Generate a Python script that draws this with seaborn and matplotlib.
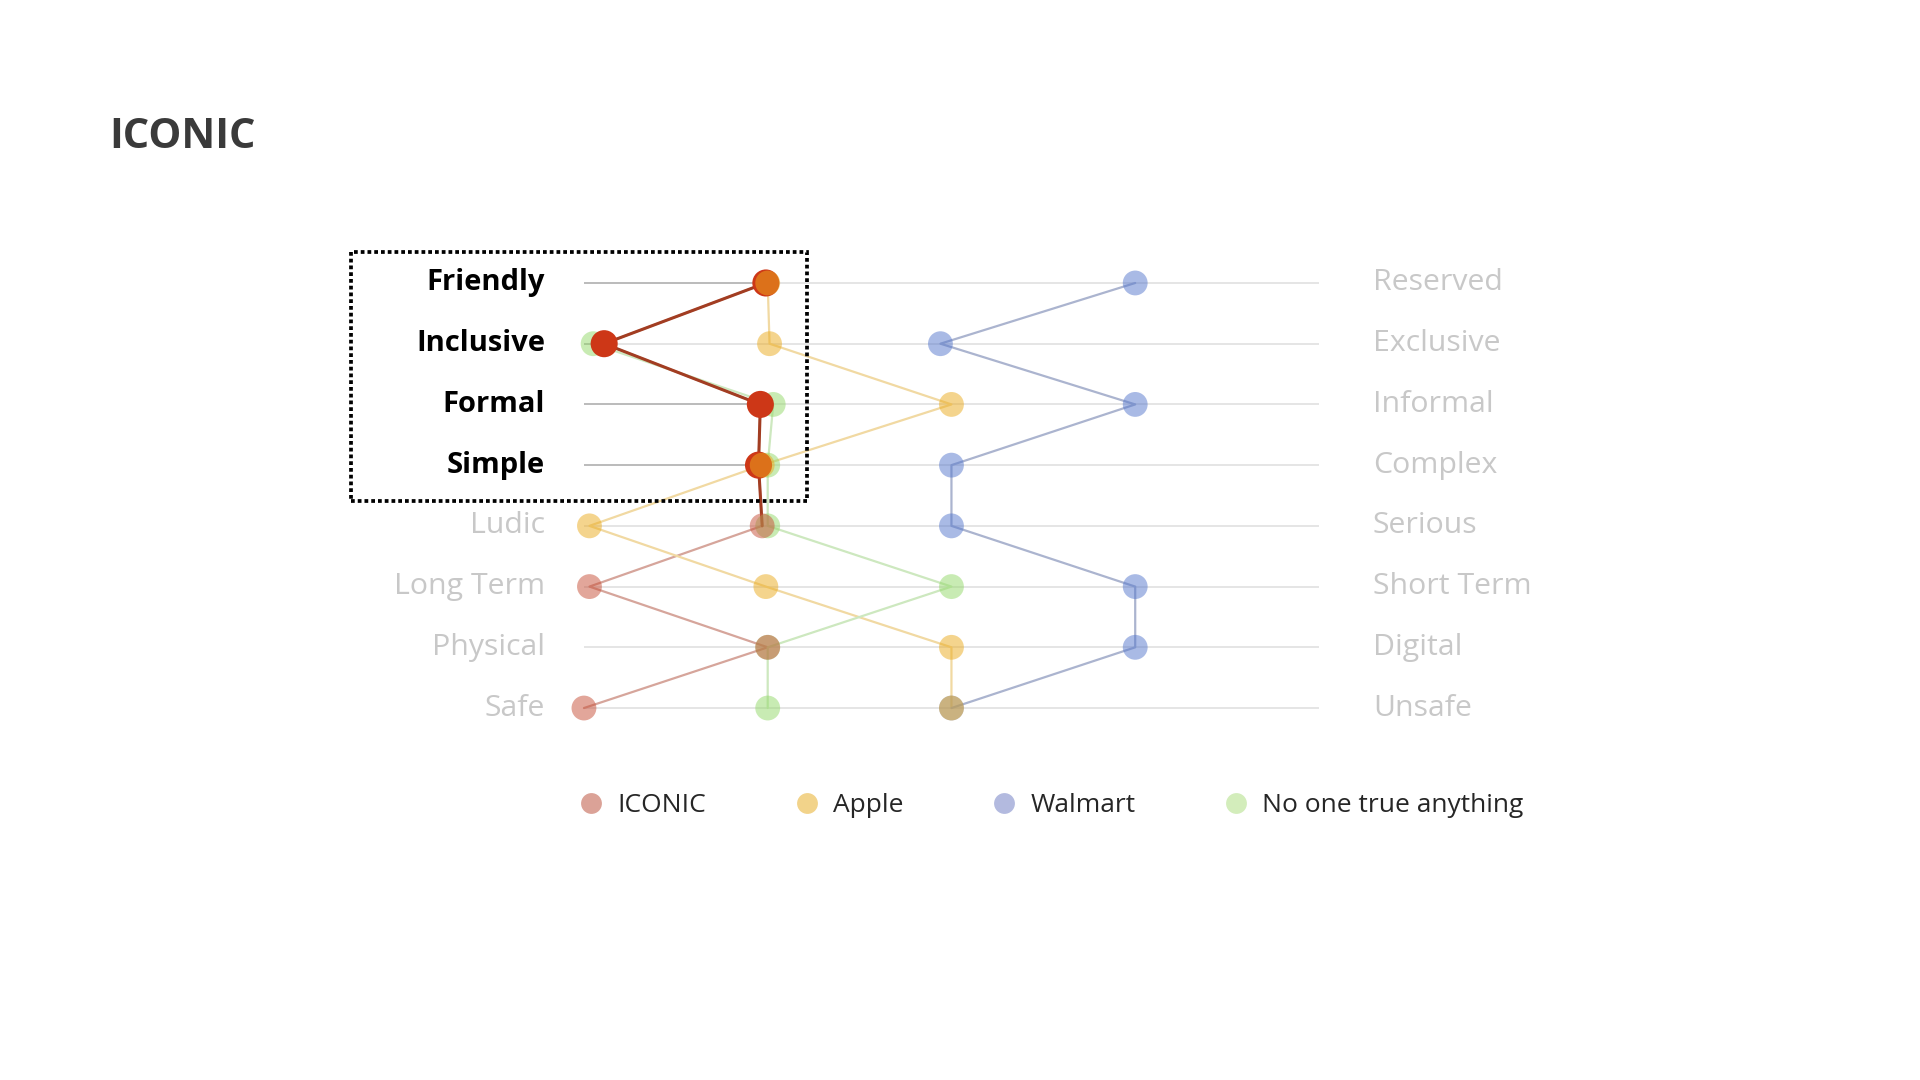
import numpy as np
import pandas as pd
import seaborn as sns
import matplotlib.pyplot as plt
from matplotlib.lines import Line2D
from matplotlib.patches import Rectangle

# pares de atributos (esquerda / direita)
rotulos_esq = ["Friendly", "Inclusive", "Formal", "Simple", "Ludic", "Long Term", "Physical", "Safe"]
rotulos_dir = ["Reserved", "Exclusive", "Informal", "Complex", "Serious", "Short Term", "Digital", "Unsafe"]

# notas (escala 1 a 5)
iconic = [1.99, 1.11, 1.96, 1.95, 1.97, 1.03, 2.00, 1.00]
apple = [2.00, 2.01, 3.00, 1.97, 1.03, 1.99, 3.00, 3.00]
walmart = [4.00, 2.94, 4.00, 3.00, 3.00, 4.00, 4.00, 3.00]
no_one = [np.nan, 1.05, 2.03, 2.00, 2.00, 3.00, 2.00, 2.00]

marcas = ["ICONIC", "Apple", "Walmart", "No one true anything"]
n_destaque = 4  # linhas dentro do quadro pontilhado

cores_ponto = {"ICONIC": "#c74f37", "Apple": "#ebab1d", "Walmart": "#5577cd",
               "No one true anything": "#93d969"}
cores_linha = {"ICONIC": "#d6a59b", "Apple": "#f1d9a2", "Walmart": "#abb4cf",
               "No one true anything": "#cde8bf"}
cores_legenda = {"ICONIC": "#dba297", "Apple": "#f2d38a", "Walmart": "#b3badf",
                 "No one true anything": "#d3edbb"}
vermelho = "#cd3717"
vermelho_linha = "#a23d22"

valores = {"ICONIC": iconic, "Apple": apple, "Walmart": walmart, "No one true anything": no_one}
linhas = []
for marca in marcas:
    for i, v in enumerate(valores[marca]):
        linhas.append({"marca": marca, "linha": i, "nota": v})
df = pd.DataFrame(linhas).dropna()

sns.set_theme(style="white")
plt.rcParams['font.family'] = ['Open Sans', 'DejaVu Sans']

fig = plt.figure(figsize=(19.2, 10.8), dpi=100)
ax = fig.add_axes([0.2850, 0.3163, 0.4211, 0.4498])
ax.set_xlim(0.8, 5.2)
ax.set_ylim(7.5, -0.5)
ax.axis('off')

idx = np.arange(len(rotulos_esq))
ax.hlines(idx, 1, 5, color='#e3e3e3', lw=1.3, zorder=0)
ax.hlines(idx[:n_destaque], 1, iconic[:n_destaque], color='#b8b8b8', lw=1.3, zorder=0.5)

sns.lineplot(data=df, x='nota', y='linha', hue='marca', hue_order=marcas,
             palette=cores_linha, sort=False, estimator=None, orient='y',
             legend=False, lw=1.6, ax=ax, zorder=1)

# destaque: trecho do ICONIC dentro do quadro
dest = df[(df['marca'] == 'ICONIC') & (df['linha'] <= n_destaque)]
sns.lineplot(data=dest, x='nota', y='linha', sort=False, estimator=None, orient='y',
             color=vermelho_linha, lw=2.2, ax=ax, zorder=2)

ordem = [("No one true anything", 3), ("Walmart", 3.1), ("ICONIC", 3.2), ("Apple", 3.4)]
for marca, z in ordem:
    sub = df[df['marca'] == marca]
    if marca == "ICONIC":
        sub = sub[sub['linha'] >= n_destaque]
    sns.scatterplot(data=sub, x='nota', y='linha', color=cores_ponto[marca], alpha=0.5,
                    s=320, edgecolor='none', legend=False, ax=ax, zorder=z)

sub = df[(df['marca'] == 'ICONIC') & (df['linha'] < n_destaque)]
sns.scatterplot(data=sub, x='nota', y='linha', color=vermelho, s=380, edgecolor='none',
                legend=False, ax=ax, zorder=3.3)

for i in idx:
    forte = i < n_destaque
    ax.text(0.788, i, rotulos_esq[i], ha='right', va='center',
            fontsize=21 if forte else 21.8,
            fontweight='bold' if forte else 'normal',
            color='black' if forte else '#c8c8c8')
    ax.text(5.294, i, rotulos_dir[i], ha='left', va='center', fontsize=21.8, color='#c8c8c8')

fig.text(109 / 1920, 1 - 138 / 1080, "ICONIC", ha='left', va='center', fontsize=30,
         fontweight='bold', color='#3a3a3a')

fig.patches.append(Rectangle((351 / 1920, 1 - 501 / 1080), (807 - 351) / 1920, (501 - 252) / 1080,
                             transform=fig.transFigure, fill=False, color='black',
                             lw=2.7, ls=(0, (1, 0.8))))

handles = [Line2D([], [], ls='none', marker='o', markersize=15, markeredgewidth=0,
                  color=cores_legenda[m], label=m) for m in marcas]
fig.legend(handles=handles, loc='center', bbox_to_anchor=(0.548, 0.254), ncol=4,
           frameon=False, fontsize=19, handlelength=0.8, handletextpad=0.6,
           columnspacing=3.4, borderpad=0)

plt.savefig('out.png', dpi=100)
